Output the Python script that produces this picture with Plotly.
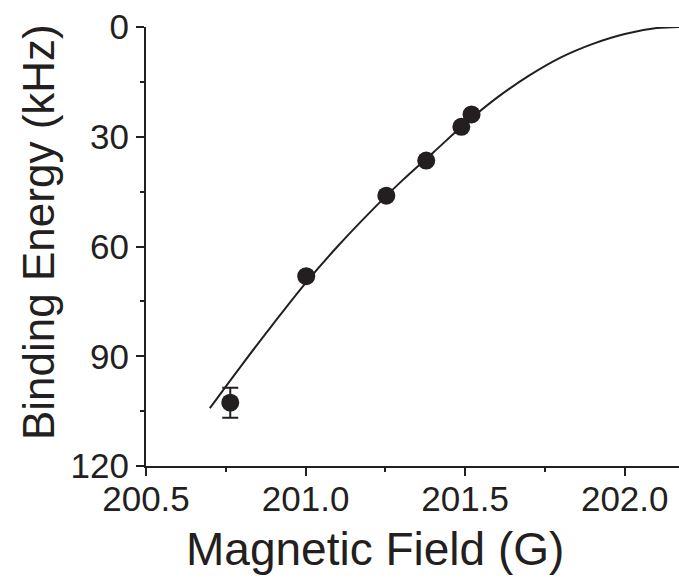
import plotly.graph_objects as go

# Measured binding energies of the Feshbach molecules
field_G = [200.764, 201.002, 201.253, 201.378, 201.488, 201.520]
energy_kHz = [102.7, 68.1, 46.1, 36.5, 27.3, 23.9]
energy_err = [4.1, 0, 0, 0, 0, 0]

# Fit curve through the data, sampled every 0.1 G
fit_field_G = [200.7, 200.8, 200.9, 201.0, 201.1, 201.2, 201.3, 201.4,
               201.5, 201.6, 201.7, 201.8, 201.9, 202.0, 202.1, 202.17]
fit_energy_kHz = [104.2, 92.4, 81.0, 70.0, 60.0, 50.8, 42.2, 34.3,
                  26.4, 19.3, 13.3, 8.3, 4.6, 1.9, 0.3, 0.0]

x_ticks = [200.5, 201.0, 201.5, 202.0]
x_ticklabels = ["200.5", "201.0", "201.5", "202.0"]
y_ticks = [0, 30, 60, 90, 120]

ink = "#231f20"
font = "Liberation Sans, Arial, sans-serif"

fig = go.Figure()

fig.add_trace(go.Scatter(
    x=fit_field_G, y=fit_energy_kHz, mode="lines",
    line=dict(color=ink, width=2, shape="spline", smoothing=1),
    showlegend=False, hoverinfo="skip",
))

fig.add_trace(go.Scatter(
    x=field_G, y=energy_kHz, mode="markers",
    marker=dict(color=ink, size=18, symbol="circle"),
    error_y=dict(type="data", array=energy_err, visible=True,
                 color=ink, thickness=2, width=8),
    showlegend=False,
))

axis_common = dict(
    showgrid=False, zeroline=False, showline=True,
    linecolor=ink, linewidth=2,
    ticks="outside", tickcolor=ink, tickwidth=2, ticklen=8,
    tickfont=dict(family=font, size=35, color=ink),
)

fig.update_layout(
    width=679, height=585,
    margin=dict(l=146, r=0, t=27, b=119),
    plot_bgcolor="white", paper_bgcolor="white",
    font=dict(family=font, color=ink),
    xaxis=dict(
        **axis_common,
        range=[200.5, 202.17],
        tickvals=x_ticks, ticktext=x_ticklabels,
        ticklabelstandoff=-7,
        minor=dict(dtick=0.25, tick0=200.5, ticks="outside", ticklen=4,
                   tickwidth=2, tickcolor=ink),
    ),
    xaxis2=dict(
        overlaying="x", side="top", matches="x", anchor="y",
        range=[200.5, 202.17],
        showgrid=False, zeroline=False, showline=True,
        linecolor=ink, linewidth=2,
        tickvals=x_ticks, showticklabels=False,
        ticks="inside", tickcolor=ink, tickwidth=2, ticklen=8,
        minor=dict(dtick=0.25, tick0=200.5, ticks="inside", ticklen=4,
                   tickwidth=2, tickcolor=ink),
    ),
    yaxis=dict(
        **axis_common,
        range=[120, 0],
        tickvals=y_ticks,
        minor=dict(dtick=15, tick0=0, ticks="outside", ticklen=4,
                   tickwidth=2, tickcolor=ink),
    ),
    annotations=[
        dict(text="Magnetic Field (G)", xref="paper", yref="paper",
             x=(375 - 146) / 533, y=-(549 - 466) / 439,
             xanchor="center", yanchor="middle", showarrow=False,
             font=dict(family=font, size=46, color=ink)),
        dict(text="Binding Energy (kHz)", xref="paper", yref="paper",
             x=-(146 - 38) / 533, y=(466 - 232) / 439, textangle=-90,
             xanchor="center", yanchor="middle", showarrow=False,
             font=dict(family=font, size=44, color=ink)),
    ],
)

fig.write_html("out.html")
